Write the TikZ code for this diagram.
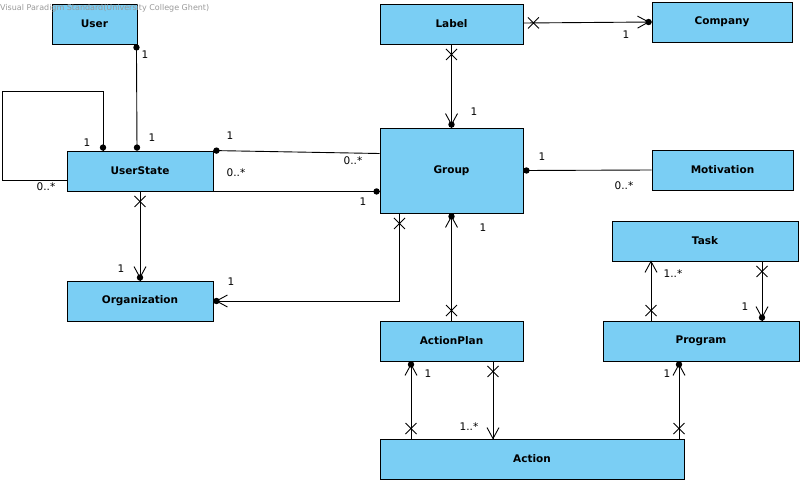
\documentclass[tikz,border=0pt]{standalone}
\usepackage{fontspec}
\setmainfont{DejaVu Sans}
\usetikzlibrary{decorations.markings}
\definecolor{clsblue}{RGB}{122,206,244}
\tikzset{
  cls/.style={draw, fill=clsblue, line width=0.9pt, inner sep=0pt,
    minimum height=40pt, font=\fontsize{10.5}{12}\selectfont\bfseries},
  mult/.style={inner sep=0pt, font=\fontsize{10.5}{12}\selectfont},
  dotend/.style={postaction={decorate,decoration={markings,
      mark=at position 1 with {\fill (-3pt,0pt) circle (3.2pt);}}}},
  dotboth/.style={postaction={decorate,decoration={markings,
      mark=at position 0 with {\fill (3pt,0pt) circle (3.2pt);},
      mark=at position 1 with {\fill (-3pt,0pt) circle (3.2pt);}}}},
  assoc/.style={postaction={decorate,decoration={markings,
      mark=at position 10pt with {\draw (-5.5pt,-5.5pt) -- (5.5pt,5.5pt) (-5.5pt,5.5pt) -- (5.5pt,-5.5pt);},
      mark=at position 1 with {\fill (-3pt,0pt) circle (3.2pt);
        \draw (-14pt,6pt) -- (-3pt,0pt) -- (-14pt,-6pt);}}}},
  assocnd/.style={postaction={decorate,decoration={markings,
      mark=at position 10pt with {\draw (-5.5pt,-5.5pt) -- (5.5pt,5.5pt) (-5.5pt,5.5pt) -- (5.5pt,-5.5pt);},
      mark=at position 1 with {\draw (-11pt,6pt) -- (0pt,0pt) -- (-11pt,-6pt);}}}}
}
\begin{document}
\begin{tikzpicture}[x=1pt, y=-1pt]
  \useasboundingbox (0,0) rectangle (802,482);
  \draw
    (94.5,24) node[cls, minimum width=85pt] (usr){User}
    (451.5,24) node[cls, minimum width=143pt] (lbl){Label}
    (722,22) node[cls, minimum width=140pt] (cmp){Company}
    (140,171) node[cls, minimum width=146pt] (us){UserState}
    (451.5,170.5) node[cls, minimum width=143pt, minimum height=85pt] (grp){Group}
    (722.5,170) node[cls, minimum width=141pt] (mot){Motivation}
    (705,241) node[cls, minimum width=186pt] (tsk){Task}
    (140,301) node[cls, minimum width=146pt] (org){Organization}
    (451.5,341) node[cls, minimum width=143pt] (ap){ActionPlan}
    (701,341) node[cls, minimum width=196pt] (prg){Program}
    (532,459) node[cls, minimum width=304pt] (act){Action};
  \begin{scope}[line width=0.9pt]
    \coordinate (loop) at (2,91);
    \draw[dotboth] ([xshift=-1]usr.south east) -- ([xshift=-3]us.north);
    \draw[dotend] ([yshift=-9]us.west) -| (loop) -| ([xshift=-37]us.north);
    \draw[dotend] ([yshift=17]grp.west) -- (us.north east);
    \draw[dotend] (us.south east) -- (us.south east -| grp.west);
    \draw[assoc] ([yshift=1]lbl.east) -- (cmp.west);
    \draw[assoc] (lbl.south) -- (grp.north);
    \draw[dotend] (mot.west) -- (grp.east);
    \draw[assoc] (us.south) -- (org.north);
    \draw[assoc] ([xshift=-52]grp.south) |- (org.east);
    \draw[assoc] (ap.north) -- (grp.south);
    \draw[assocnd] ([xshift=-50]prg.north) -- ([xshift=-50]prg.north |- tsk.south);
    \draw[assoc] ([xshift=57]tsk.south) -- ([xshift=57]tsk.south |- prg.north);
    \draw[assoc] ([xshift=-121]act.north) -- ([xshift=-121]act.north |- ap.south);
    \draw[assocnd] ([xshift=41.5]ap.south) -- ([xshift=41.5]ap.south |- act.north);
    \draw[assoc] ([xshift=147]act.north) -- ([xshift=147]act.north |- prg.south);
  \end{scope}
  \draw
    (145,55) node[mult] (m1){1}
    (152,138) node[mult] (m2){1}
    (87,143) node[mult] (m3){1}
    (46,187) node[mult] (m4){0..*}
    (230,136) node[mult] (m5){1}
    (353,161) node[mult] (m6){0..*}
    (236,173) node[mult] (m7){0..*}
    (363,202) node[mult] (m8){1}
    (626,35) node[mult] (m9){1}
    (474,112) node[mult] (m10){1}
    (542,157) node[mult] (m11){1}
    (624,186) node[mult] (m12){0..*}
    (121,269) node[mult] (m13){1}
    (231,282) node[mult] (m14){1}
    (483,228) node[mult] (m15){1}
    (673,274) node[mult] (m16){1..*}
    (745,307) node[mult] (m17){1}
    (428,374) node[mult] (m18){1}
    (469,427) node[mult] (m19){1..*}
    (667,374) node[mult] (m20){1};
  \node[anchor=base west, inner sep=0pt, text=gray!80,
    font=\fontsize{8}{9}\selectfont] (wm) at (0,10)
    {Visual Paradigm Standard(University College Ghent)};
\end{tikzpicture}
\end{document}
